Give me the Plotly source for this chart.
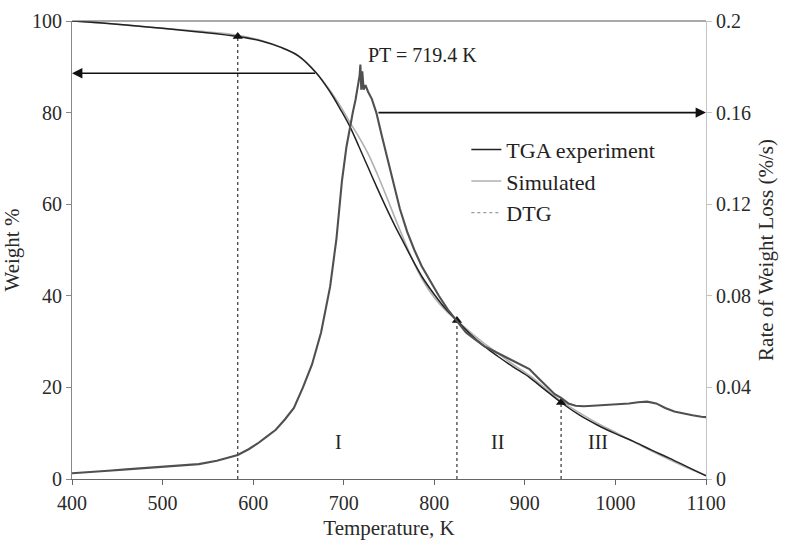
import plotly.graph_objects as go

# Temperature grid (K) and measured / simulated weight (%)
tga_T = [400, 430, 460, 500, 540, 583, 610, 630, 650, 670, 685, 697, 707, 717, 727, 737,
         747, 757, 767, 777, 787, 800, 812, 825, 840, 855, 870, 887, 905, 922, 940, 960,
         980, 1000, 1020, 1040, 1060, 1080, 1100]
tga_exp = [100, 99.6, 99.1, 98.4, 97.6, 96.6, 95.6, 94.3, 92.4, 88.6, 84.5, 80.5, 76.9, 72.5,
           68.0, 63.5, 59.2, 55.1, 51.3, 47.5, 44.0, 40.3, 37.3, 34.6, 31.6, 29.0, 26.8, 24.5,
           22.2, 19.5, 16.7, 14.0, 11.8, 9.9, 8.2, 6.3, 4.5, 2.6, 0.7]
tga_sim = [100, 99.6, 99.1, 98.4, 97.8, 96.9, 95.7, 94.3, 92.3, 88.6, 84.8, 81.2, 77.8, 74.6,
           71.0, 66.6, 61.8, 56.8, 52.0, 47.4, 43.5, 39.6, 36.9, 34.6, 32.0, 29.6, 27.5, 25.0,
           22.6, 19.9, 17.0, 14.5, 12.2, 10.2, 8.1, 6.1, 4.2, 2.4, 0.8]

# Derivative thermogravimetry, rate of weight loss (%/s)
dtg_T = [400, 420, 440, 460, 480, 500, 520, 540, 560, 575, 583, 595, 605, 615, 625, 635, 645,
         655, 665, 675, 685, 692, 698, 703, 707, 710, 713, 716, 717.5, 718.4, 719.4, 720.5, 722,
         724, 727, 731, 736, 742, 748, 754, 762, 770, 778, 786, 795, 805, 815, 825, 835, 845,
         855, 865, 875, 885, 895, 905, 915, 925, 933, 940, 948, 956, 965, 975, 985, 995, 1005,
         1015, 1025, 1035, 1045, 1055, 1065, 1075, 1085, 1095, 1100]
dtg = [0.0025, 0.0032, 0.0036, 0.0042, 0.0048, 0.0052, 0.0057, 0.0065, 0.0080, 0.0095, 0.0105,
       0.0130, 0.0155, 0.0185, 0.0215, 0.026, 0.031, 0.040, 0.050, 0.064, 0.084, 0.105, 0.130,
       0.145, 0.154, 0.160, 0.1655, 0.172, 0.176, 0.181, 0.170, 0.178, 0.170, 0.172, 0.169,
       0.166, 0.160, 0.150, 0.140, 0.130, 0.118, 0.108, 0.100, 0.093, 0.087, 0.080, 0.074,
       0.069, 0.064, 0.061, 0.058, 0.056, 0.054, 0.052, 0.050, 0.048, 0.044, 0.040, 0.037,
       0.0354, 0.033, 0.032, 0.0318, 0.032, 0.0322, 0.0325, 0.0328, 0.033, 0.0335, 0.0338,
       0.033, 0.031, 0.0295, 0.0285, 0.0278, 0.0272, 0.027]

# Stage boundaries (K) and the weight (%) where each meets the TGA curve
stage_T = [583, 825, 940]
stage_W = [96.6, 34.6, 16.7]
stage_names = ["I", "II", "III"]
stage_label_T = [694, 870, 981]
stage_label_W = [8, 8, 8]

peak_T = 719.4
left_arrow = dict(T_from=670, T_to=400, W=88.6)
right_arrow = dict(T_from=736.7, T_to=1100, W=80)

FONT = "Liberation Serif, Times New Roman, serif"
TICK_FONT = dict(family=FONT, size=20, color="#2a2a2a")
TITLE_FONT = dict(family=FONT, size=21, color="#2a2a2a")

fig = go.Figure()

fig.add_trace(go.Scatter(x=dtg_T, y=dtg, yaxis="y2", mode="lines", name="DTG",
                         line=dict(color="#505050", width=2.1), showlegend=False))
fig.add_trace(go.Scatter(x=tga_T, y=tga_sim, mode="lines", name="Simulated",
                         line=dict(color="#b0b0b0", width=1.6, shape="spline"), showlegend=False))
fig.add_trace(go.Scatter(x=tga_T, y=tga_exp, mode="lines", name="TGA experiment",
                         line=dict(color="#222222", width=1.5, shape="spline"), showlegend=False))

# legend entries
fig.add_trace(go.Scatter(x=[None], y=[None], mode="lines", name="TGA experiment",
                         line=dict(color="#222222", width=1.5)))
fig.add_trace(go.Scatter(x=[None], y=[None], mode="lines", name="Simulated",
                         line=dict(color="#b0b0b0", width=1.6)))
fig.add_trace(go.Scatter(x=[None], y=[None], mode="lines", name="DTG",
                         line=dict(color="#9a9a9a", width=1.2, dash="dot")))

# dotted stage boundaries with arrow tips on the TGA curve
vx, vy = [], []
for t, w in zip(stage_T, stage_W):
    vx += [t, t, None]
    vy += [0, w, None]
fig.add_trace(go.Scatter(x=vx, y=vy, mode="lines", showlegend=False,
                         line=dict(color="#333333", width=1.2, dash="dot")))
fig.add_trace(go.Scatter(x=stage_T, y=stage_W, mode="markers", showlegend=False,
                         marker=dict(symbol="triangle-up", size=9, color="#111111")))

annotations = []
for name, t, w in zip(stage_names, stage_label_T, stage_label_W):
    annotations.append(dict(x=t, y=w, xref="x", yref="y", text=name, showarrow=False,
                            font=dict(family=FONT, size=20, color="#222")))
annotations.append(dict(x=787.5, y=92.6, xref="x", yref="y", text=f"PT = {peak_T} K",
                        showarrow=False, font=dict(family=FONT, size=20, color="#222")))
for a in (left_arrow, right_arrow):
    annotations.append(dict(x=a["T_to"], y=a["W"], ax=a["T_from"], ay=a["W"],
                            xref="x", yref="y", axref="x", ayref="y", text="",
                            showarrow=True, arrowhead=2, arrowsize=1.3, arrowwidth=1.6,
                            arrowcolor="#111", standoff=0))

fig.update_layout(
    width=788, height=540,
    margin=dict(l=72, r=82, t=21, b=61),
    paper_bgcolor="white", plot_bgcolor="white",
    font=dict(family=FONT, size=19, color="#222"),
    showlegend=True,
    legend=dict(x=0.622, y=0.765, xanchor="left", yanchor="top",
                bgcolor="rgba(0,0,0,0)", font=dict(family=FONT, size=22, color="#222"),
                tracegroupgap=0, itemwidth=30),
    xaxis=dict(range=[400, 1100], tickvals=list(range(400, 1101, 100)), automargin=False,
               showgrid=False, zeroline=False, showline=True, linecolor="#666", linewidth=1,
               ticks="outside", ticklen=5, tickcolor="#666", tickfont=TICK_FONT,
               ticklabelstandoff=1,
               title=dict(text="Temperature, K", standoff=12, font=TITLE_FONT)),
    yaxis=dict(range=[0, 100], tickvals=list(range(0, 101, 20)), automargin=False,
               showgrid=False, zeroline=False, showline=True, linecolor="#888", linewidth=1,
               ticks="outside", ticklen=5, tickcolor="#888", tickfont=TICK_FONT,
               title=dict(text="Weight %", standoff=6, font=TITLE_FONT)),
    yaxis2=dict(range=[0, 0.2], tickvals=[0, 0.04, 0.08, 0.12, 0.16, 0.2], automargin=False,
                ticktext=["0", "0.04", "0.08", "0.12", "0.16", "0.2"],
                overlaying="y", side="right", showgrid=False, zeroline=False,
                showline=True, linecolor="#c4c4c4", linewidth=1,
                ticks="outside", ticklen=5, tickcolor="#c4c4c4", tickfont=TICK_FONT,
                title=dict(text="Rate of Weight Loss (%/s)", standoff=8, font=TITLE_FONT)),
    shapes=[dict(type="line", xref="paper", yref="paper", x0=0, x1=1, y0=1, y1=1,
                 line=dict(color="#555", width=1.2))],
    annotations=annotations,
)

fig.write_html("out.html")
